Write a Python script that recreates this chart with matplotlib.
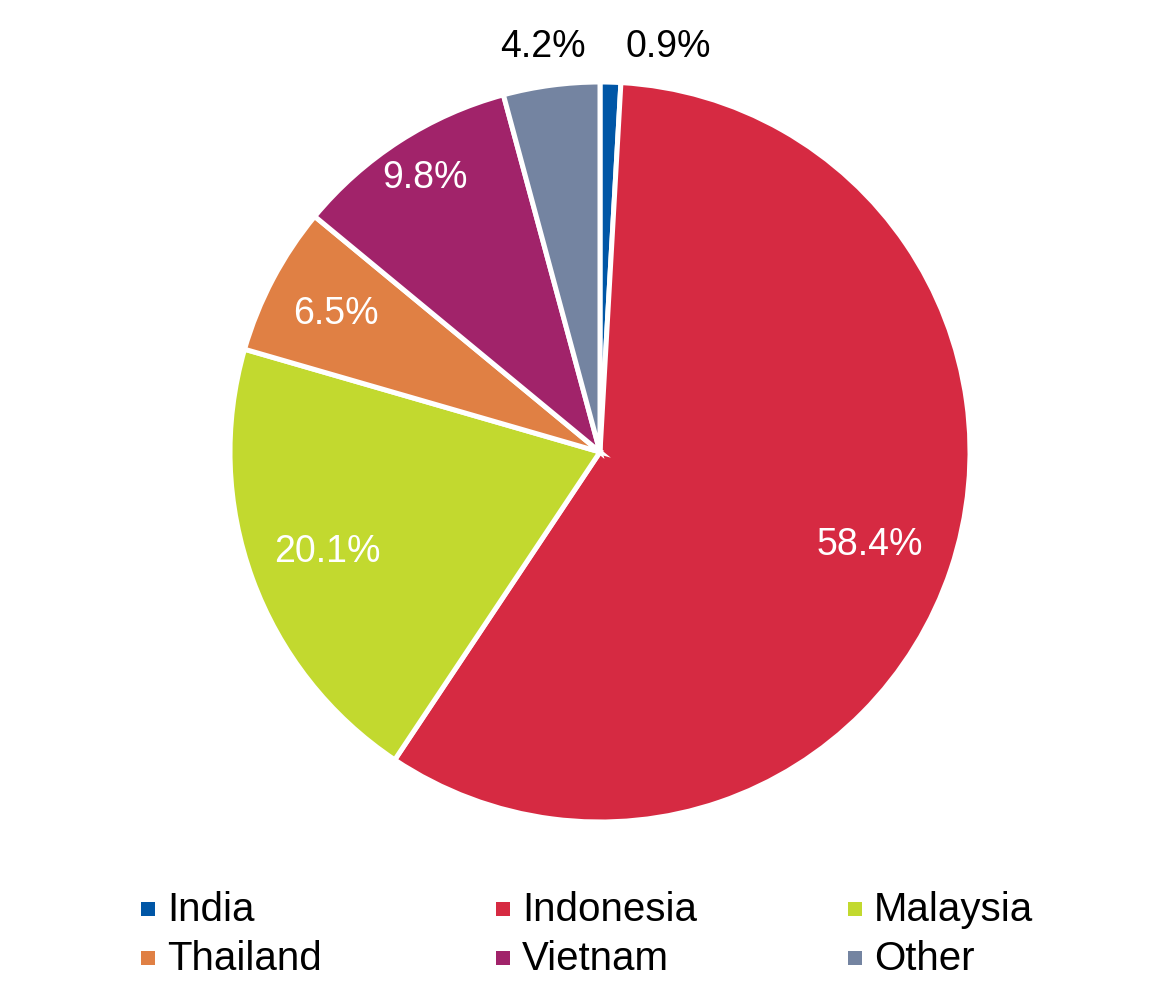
import matplotlib
matplotlib.use("Agg")
import matplotlib.pyplot as plt
from matplotlib.patches import Rectangle
import numpy as np

plt.rcParams['font.family'] = ['Liberation Sans', 'DejaVu Sans']

categories = ["India", "Indonesia", "Malaysia", "Thailand", "Vietnam", "Other"]
values = [0.9, 58.4, 20.1, 6.5, 9.8, 4.2]
colors = ["#0056A6", "#D62A42", "#C2D92F", "#E08044", "#A1236A", "#7484A1"]

# label placement style (radius factor, angle offset in degrees, text colour)
label_r = [1.11, 0.772, 0.786, 0.806, 0.878, 1.106]
label_dang = [-8.0, -0.6, 0.0, 0.3, -0.3, 0.4]
label_col = ["black", "white", "white", "white", "white", "black"]

W, H = 1163, 1002
fig = plt.figure(figsize=(W / 100, H / 100), dpi=100)
cx, cy, R = 600, 452, 370
ax = fig.add_axes([(cx - R) / W, (H - cy - R) / H, 2 * R / W, 2 * R / H])

wedges, _ = ax.pie(values, colors=colors, startangle=90, counterclock=False,
                   radius=1.0, wedgeprops=dict(edgecolor='white', linewidth=3.6))
ax.set_xlim(-1, 1)
ax.set_ylim(-1, 1)
ax.set_aspect('equal')
ax.axis('off')

for w, v, r, da, c in zip(wedges, values, label_r, label_dang, label_col):
    mid = np.deg2rad((w.theta1 + w.theta2) / 2 + da)
    ax.text(r * np.cos(mid), r * np.sin(mid), f"{v:.1f}%", ha='center', va='center',
            fontsize=27, color=c)

# legend
col_x = [148, 503, 855]
row_y = [909, 958]
sq = 14
for i, (cat, col) in enumerate(zip(categories, colors)):
    x = col_x[i % 3]
    y = row_y[i // 3]
    fig.patches.append(Rectangle(((x - sq / 2) / W, (H - y - sq / 2) / H), sq / W, sq / H,
                                 transform=fig.transFigure, facecolor=col, edgecolor='none'))
    fig.text((x + 19) / W, (H - y - 1) / H, cat, ha='left', va='center', fontsize=29, color='black')

fig.savefig("out.png", dpi=100, facecolor='white')
